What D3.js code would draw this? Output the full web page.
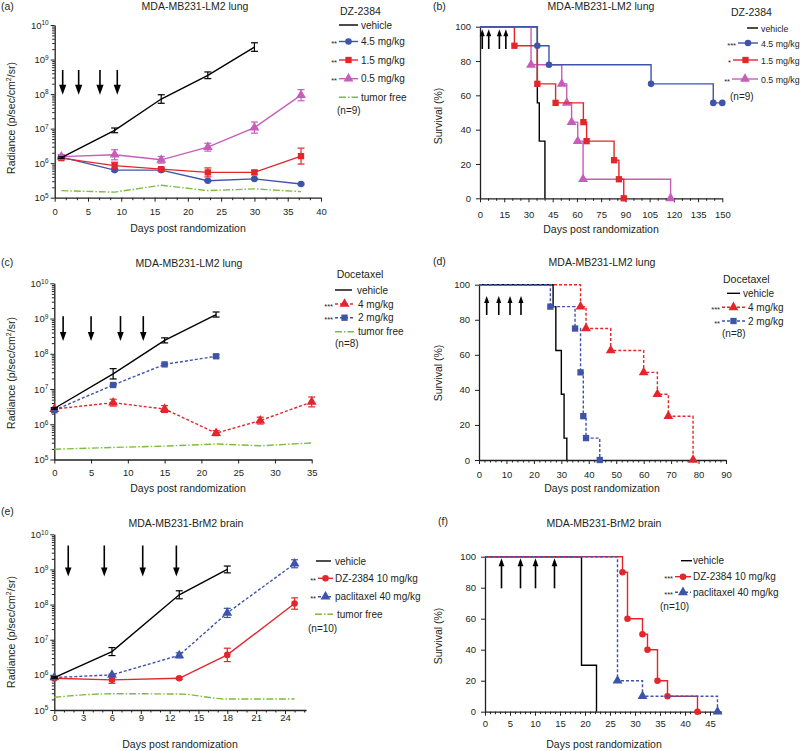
<!DOCTYPE html>
<html>
<head>
<meta charset="utf-8">
<script src="https://cdn.jsdelivr.net/npm/d3@7"></script>
<style>
body { margin: 0; background: #fff; }
</style>
</head>
<body>
<script>
// ---- data ----
// (a) DZ-2384, MDA-MB231-LM2 lung, radiance
var daysA = [1, 9, 16, 23, 30, 37];
var vehicleA = [1.45e6, 8.9e6, 7.2e7, 3.5e8, 2.3e9];
var vehicleAErr = [1.05, 1.17, 1.33, 1.25, 1.33];
var dz45A = [1.5e6, 6.3e5, 6.3e5, 3.1e5, 3.5e5, 2.5e5];
var dz45AErr = [1.08, 1.08, 1.08, 1.05, 1.05, 1.05];
var dz15A = [1.4e6, 8.5e5, 6.7e5, 5.4e5, 5.4e5, 1.6e6];
var dz15AErr = [1.1, 1.25, 1.1, 1.35, 1.15, 1.7];
var dz05A = [1.55e6, 1.75e6, 1.25e6, 2.9e6, 1.07e7, 9.3e7];
var dz05AErr = [1.15, 1.4, 1.25, 1.3, 1.45, 1.45];
var freeA = [1.6e5, 1.45e5, 2.3e5, 1.6e5, 1.8e5, 1.5e5];
var arrowsA = [1.2, 3.6, 6.8, 9.4];
var xTicksA = [0, 5, 10, 15, 20, 25, 30, 35, 40];

// (b) DZ-2384 survival: event days and survival (%)
var vehicleBDays = [35.5, 36.7, 40.2];
var vehicleBSurv = [55.6, 33.3, 0];
var dz45BDays = [35.5, 42.7, 105.9, 144.4, 150];
var dz45BSurv = [88.9, 77.8, 66.7, 55.6, 55.6];
var dz15BDays = [21.3, 35.5, 46.8, 64, 66, 83, 86, 89];
var dz15BSurv = [88.9, 66.7, 55.6, 44.4, 33.3, 22.2, 11.1, 0];
var dz05BDays = [31.6, 50.6, 53.7, 56.7, 60.5, 63.8, 118];
var dz05BSurv = [77.8, 66.7, 55.6, 44.4, 33.3, 11.1, 0];
var arrowsB = [1.4, 5.4, 12, 16];
var xTicksB = [0, 15, 30, 45, 60, 75, 90, 105, 120, 135, 150];

// (c) docetaxel, LM2 lung, radiance
var daysC = [0, 8, 15, 22, 28, 35];
var vehicleC = [2.8e6, 2.7e7, 2.4e8, 1.3e9];
var vehicleCErr = [1.05, 1.4, 1.18, 1.18];
var doc4C = [2.7e6, 4.1e6, 2.7e6, 5.6e5, 1.27e6, 4.3e6];
var doc4CErr = [1.1, 1.25, 1.25, 1.18, 1.25, 1.38];
var doc2C = [2.5e6, 1.3e7, 5.0e7, 8.5e7];
var doc2CErr = [1.1, 1.05, 1.05, 1.1];
var freeC = [1.95e5, 2.2e5, 2.4e5, 2.75e5, 2.45e5, 2.95e5];
var arrowsC = [1.2, 5.0, 9.0, 12.1];
var xTicksC = [0, 5, 10, 15, 20, 25, 30, 35];

// (d) docetaxel survival
var vehicleDDays = [27, 28, 30, 31, 32];
var vehicleDSurv = [87.5, 62.5, 37.5, 12.5, 0];
var doc4DDays = [37, 39, 48, 60, 65, 69, 78];
var doc4DSurv = [87.5, 75, 62.5, 50, 37.5, 25, 0];
var doc2DDays = [26, 35, 37, 38, 39, 44];
var doc2DSurv = [87.5, 75, 50, 25, 12.5, 0];
var arrowsD = [2.8, 7.2, 11.3, 15.3];
var xTicksD = [0, 10, 20, 30, 40, 50, 60, 70, 80, 90];

// (e) BrM2 brain, radiance
var daysE = [0, 6, 13, 18, 25];
var vehicleE = [8.4e5, 4.6e6, 1.9e8, 1.0e9];
var vehicleEErr = [1.05, 1.3, 1.3, 1.25];
var dzE = [8.0e5, 7.2e5, 8.0e5, 3.7e6, 1.07e8];
var dzEErr = [1.05, 1.25, 1.08, 1.55, 1.45];
var pacE = [8.4e5, 1.0e6, 3.6e6, 5.8e7, 1.45e9];
var pacEErr = [1.05, 1.05, 1.18, 1.35, 1.3];
var freeE = [2.3e5, 2.9e5, 2.85e5, 2.05e5, 2.05e5];
var arrowsE = [1.45, 5.2, 9.2, 12.7];
var xTicksE = [0, 3, 6, 9, 12, 15, 18, 21, 24];

// (f) BrM2 brain survival
var vehicleFDays = [19.3, 22.3];
var vehicleFSurv = [30, 0];
var dzFDays = [27.5, 28.5, 31.5, 32.5, 34.5, 36.5, 42.5];
var dzFSurv = [90, 60, 50, 40, 20, 10, 0];
var pacFDays = [26.5, 31.5, 46.5];
var pacFSurv = [20, 10, 0];
var arrowsF = [3.3, 7.1, 10.1, 13.9];
var xTicksF = [0, 5, 10, 15, 20, 25, 30, 35, 40, 45];

var decades = [1e5, 1e6, 1e7, 1e8, 1e9, 1e10];
var survTicks = [0, 20, 40, 60, 80, 100];

// ---- style ----
var FONT = "'Liberation Sans', Arial, Helvetica, sans-serif";
var INK = "#231f20";
var blue = "#3e54a8", red = "#e2262b", pink = "#c75dbb", green = "#7dbc3c";
var dashed = "3,2", dashDot = "7,2,1.5,2";

var svg = d3.select("body").append("svg")
  .attr("width", 800).attr("height", 751)
  .style("font-family", FONT);

function text(x, y, txt, size, anchor) {
  return svg.append("text").attr("x", x).attr("y", y)
    .attr("font-size", size).attr("text-anchor", anchor || "start")
    .attr("fill", INK).text(txt);
}

function yTitle(x, y, log) {
  var t = svg.append("text")
    .attr("transform", "translate(" + x + "," + y + ") rotate(-90)")
    .attr("text-anchor", "middle").attr("font-size", 10.5).attr("fill", INK);
  if (log) {
    t.append("tspan").text("Radiance (p/sec/cm");
    t.append("tspan").attr("dy", -4).attr("font-size", 7).text("2");
    t.append("tspan").attr("dy", 4).text("/sr)");
  } else {
    t.text("Survival (%)");
  }
}

function styleAxis(a) {
  a.attr("font-family", FONT).attr("font-size", 9.5);
  a.select(".domain").attr("stroke", INK).attr("stroke-width", 1.3);
  a.selectAll(".tick line").attr("stroke", INK).attr("stroke-width", 1);
  a.selectAll(".tick text").attr("fill", INK);
}

function logLabels(a) {
  a.selectAll(".tick text").each(function(d) {
    var t = d3.select(this);
    t.text(null);
    t.append("tspan").text("10");
    t.append("tspan").attr("dy", "-0.5em").attr("font-size", "6.5px").text(Math.round(Math.log10(d)));
  });
}

function minorAxis(g, axis, transform) {
  g.append("g").attr("transform", transform)
    .call(axis.tickSize(2.5).tickSizeOuter(0).tickFormat(""))
    .call(function(a) { a.select(".domain").remove(); a.selectAll("line").attr("stroke", INK); });
}

function frame(p) {
  var g = svg.append("g");
  var x = d3.scaleLinear().domain(p.xDomain).range([p.left, p.right]);
  var y = p.log
    ? d3.scaleLog().domain([1e5, 1e10]).range([p.bottom, p.top])
    : d3.scaleLinear().domain([0, 100]).range([p.bottom, p.top]);

  if (p.log) {
    var minor = [];
    decades.slice(0, 5).forEach(function(d) {
      for (var k = 2; k < 10; k++) minor.push(k * d);
    });
    minorAxis(g, d3.axisLeft(y).tickValues(minor), "translate(" + p.left + ",0)");
  }
  var ya = g.append("g").attr("transform", "translate(" + p.left + ",0)")
    .call(d3.axisLeft(y).tickValues(p.log ? decades : survTicks)
      .tickSize(4).tickSizeOuter(0).tickPadding(p.log ? 2 : 5));
  styleAxis(ya);
  if (p.log) logLabels(ya);

  if (p.xMinor) minorAxis(g, d3.axisBottom(x).tickValues(p.xMinor), "translate(0," + p.bottom + ")");
  var xa = g.append("g").attr("transform", "translate(0," + p.bottom + ")")
    .call(d3.axisBottom(x).tickValues(p.xTicks).tickSize(4).tickSizeOuter(0).tickPadding(p.xPad));
  styleAxis(xa);

  text(p.letterX, p.letterY, p.letter, 10.5);
  text(p.titleX, p.titleY, p.title, 10.5, "middle");
  text(p.xLabelX, p.xLabelY, "Days post randomization", 10.5, "middle");
  yTitle(p.yLabelX, p.yLabelY, p.log);
  return { g: g, x: x, y: y };
}

function marker(sel, symbol, color) {
  var size = symbol === d3.symbolCircle ? 34 : symbol === d3.symbolSquare ? 40 : 42;
  sel.attr("d", d3.symbol(symbol, size)()).attr("fill", color);
}

function growth(f, days, vals, errs, s) {
  var pts = vals.map(function(v, i) { return { d: days[i], v: v, e: errs ? errs[i] : 1 }; });
  var line = d3.line().x(function(d) { return f.x(d.d); }).y(function(d) { return f.y(d.v); });
  if (s.smooth) line.curve(d3.curveMonotoneX);
  f.g.append("path").datum(pts).attr("d", line)
    .attr("fill", "none").attr("stroke", s.color).attr("stroke-width", 1.4)
    .attr("stroke-dasharray", s.dash || null);

  var eb = f.g.selectAll(null).data(pts.filter(function(d) { return d.e > 1; }))
    .enter().append("g").attr("stroke", s.color).attr("stroke-width", 1.2);
  eb.append("line")
    .attr("x1", function(d) { return f.x(d.d); }).attr("x2", function(d) { return f.x(d.d); })
    .attr("y1", function(d) { return f.y(d.v * d.e); }).attr("y2", function(d) { return f.y(d.v / d.e); });
  [1, -1].forEach(function(sg) {
    eb.append("line")
      .attr("x1", function(d) { return f.x(d.d) - 3.5; }).attr("x2", function(d) { return f.x(d.d) + 3.5; })
      .attr("y1", function(d) { return f.y(sg > 0 ? d.v * d.e : d.v / d.e); })
      .attr("y2", function(d) { return f.y(sg > 0 ? d.v * d.e : d.v / d.e); });
  });

  if (s.symbol) {
    f.g.selectAll(null).data(pts).enter().append("path")
      .attr("transform", function(d) { return "translate(" + f.x(d.d) + "," + f.y(d.v) + ")"; })
      .call(marker, s.symbol, s.color);
  }
}

function km(f, days, surv, s) {
  var pts = [[0, 100]].concat(days.map(function(t, i) { return [t, surv[i]]; }));
  f.g.append("path").datum(pts)
    .attr("d", d3.line().curve(d3.curveStepAfter)
      .x(function(d) { return f.x(d[0]); }).y(function(d) { return f.y(d[1]); }))
    .attr("fill", "none").attr("stroke", s.color).attr("stroke-width", 1.4)
    .attr("stroke-dasharray", s.dash || null);
  if (s.symbol) {
    f.g.selectAll(null).data(pts.slice(1)).enter().append("path")
      .attr("transform", function(d) { return "translate(" + f.x(d[0]) + "," + f.y(d[1]) + ")"; })
      .call(marker, s.symbol, s.color);
  }
}

function arrows(f, days, from, to, head) {
  days.forEach(function(d) {
    var x = f.x(d), y0 = f.y(from), y1 = f.y(to), dir = y1 > y0 ? 1 : -1;
    f.g.append("line").attr("x1", x).attr("x2", x).attr("y1", y0).attr("y2", y1 - dir * (head - 1))
      .attr("stroke", "#000").attr("stroke-width", 1.6);
    f.g.append("path")
      .attr("d", "M" + (x - head * 0.36) + "," + (y1 - dir * head) + "L" + (x + head * 0.36) + "," + (y1 - dir * head) + "L" + x + "," + y1 + "Z")
      .attr("fill", "#000");
  });
}

function legend(items, size) {
  items.forEach(function(it) {
    if (it.line) {
      svg.append("line").attr("x1", it.x0).attr("x2", it.x1).attr("y1", it.y).attr("y2", it.y)
        .attr("stroke", it.color).attr("stroke-width", 1.4).attr("stroke-dasharray", it.dash || null);
    }
    if (it.symbol) {
      svg.append("path").attr("transform", "translate(" + (it.x0 + it.x1) / 2 + "," + it.y + ")")
        .call(marker, it.symbol, it.color);
    }
    if (it.stars) text(it.x0 - 2, it.y + 4.5, it.stars, 7.5, "end");
    text(it.tx, it.y + (it.line ? 3.5 : 0), it.label, it.size || size || 10);
  });
}

// ---- (a) ----
var fa = frame({ log: true, left: 54.7, right: 321, top: 25, bottom: 197.7, xDomain: [0, 40],
  xTicks: xTicksA, xMinor: d3.range(0, 40, 5 / 3).filter(function(v, i) { return i % 3; }), xPad: 7,
  letter: "(a)", letterX: 1, letterY: 10, title: "MDA-MB231-LM2 lung", titleX: 195, titleY: 10,
  xLabelX: 188, xLabelY: 232, yLabelX: 15, yLabelY: 118 });
growth(fa, daysA, freeA, null, { color: green, dash: dashDot });
growth(fa, daysA, dz45A, dz45AErr, { color: blue, symbol: d3.symbolCircle });
growth(fa, daysA, dz15A, dz15AErr, { color: red, symbol: d3.symbolSquare });
growth(fa, daysA, dz05A, dz05AErr, { color: pink, symbol: d3.symbolTriangle });
growth(fa, daysA, vehicleA, vehicleAErr, { color: "#000" });
arrows(fa, arrowsA, 5e8, 9.5e7, 10);
legend([
  { label: "DZ-2384", tx: 340, y: 15, size: 10.5 },
  { label: "vehicle", line: true, color: "#000", x0: 339, x1: 358, tx: 361, y: 25 },
  { label: "4.5 mg/kg", line: true, color: blue, symbol: d3.symbolCircle, stars: "**", x0: 339, x1: 358, tx: 361, y: 41.5 },
  { label: "1.5 mg/kg", line: true, color: red, symbol: d3.symbolSquare, stars: "**", x0: 339, x1: 358, tx: 361, y: 60 },
  { label: "0.5 mg/kg", line: true, color: pink, symbol: d3.symbolTriangle, stars: "**", x0: 339, x1: 358, tx: 361, y: 78.7 },
  { label: "tumor free", line: true, color: green, dash: dashDot, x0: 339, x1: 358, tx: 361, y: 97.3 },
  { label: "(n=9)", tx: 337, y: 114 }
]);

// ---- (b) ----
var fb = frame({ log: false, left: 480, right: 722.3, top: 26.7, bottom: 198.3, xDomain: [0, 150],
  xTicks: xTicksB, xMinor: d3.range(5, 150, 5).filter(function(v) { return v % 15; }), xPad: 9,
  letter: "(b)", letterX: 433, letterY: 10, title: "MDA-MB231-LM2 lung", titleX: 601, titleY: 10,
  xLabelX: 601, xLabelY: 233, yLabelX: 442, yLabelY: 116 });
km(fb, vehicleBDays, vehicleBSurv, { color: "#000" });
km(fb, dz05BDays, dz05BSurv, { color: pink, symbol: d3.symbolTriangle });
km(fb, dz15BDays, dz15BSurv, { color: red, symbol: d3.symbolSquare });
km(fb, dz45BDays, dz45BSurv, { color: blue, symbol: d3.symbolCircle });
arrows(fb, arrowsB, 87, 98.5, 7);
legend([
  { label: "DZ-2384", tx: 731, y: 16, size: 10.5 },
  { label: "vehicle", line: true, color: "#000", x0: 747, x1: 758, tx: 761, y: 28 },
  { label: "4.5 mg/kg", line: true, color: blue, symbol: d3.symbolCircle, stars: "***", x0: 738, x1: 758, tx: 761, y: 43 },
  { label: "1.5 mg/kg", line: true, color: red, symbol: d3.symbolSquare, stars: "*", x0: 733, x1: 758, tx: 761, y: 60 },
  { label: "0.5 mg/kg", line: true, color: pink, symbol: d3.symbolTriangle, stars: "**", x0: 732, x1: 758, tx: 761, y: 79 },
  { label: "(n=9)", tx: 730, y: 100, size: 10 }
], 8.8);

// ---- (c) ----
var fc = frame({ log: true, left: 54.3, right: 311.7, top: 283.3, bottom: 459.5, xDomain: [0, 35],
  xTicks: xTicksC, xPad: 6,
  letter: "(c)", letterX: 1, letterY: 266, title: "MDA-MB231-LM2 lung", titleX: 189, titleY: 267,
  xLabelX: 188, xLabelY: 492, yLabelX: 15, yLabelY: 373 });
growth(fc, daysC, freeC, null, { color: green, dash: dashDot });
growth(fc, daysC, doc4C, doc4CErr, { color: red, dash: dashed, symbol: d3.symbolTriangle });
growth(fc, daysC, doc2C, doc2CErr, { color: blue, dash: dashed, symbol: d3.symbolSquare });
growth(fc, daysC, vehicleC, vehicleCErr, { color: "#000" });
arrows(fc, arrowsC, 1.17e9, 2.3e8, 9);
legend([
  { label: "Docetaxel", tx: 336.7, y: 278, size: 10.5 },
  { label: "vehicle", line: true, color: "#000", x0: 335, x1: 352, tx: 357, y: 290 },
  { label: "4 mg/kg", line: true, color: red, dash: dashed, symbol: d3.symbolTriangle, stars: "***", x0: 335, x1: 354, tx: 358, y: 304 },
  { label: "2 mg/kg", line: true, color: blue, dash: dashed, symbol: d3.symbolSquare, stars: "***", x0: 335, x1: 354, tx: 358, y: 317.7 },
  { label: "tumor free", line: true, color: green, dash: dashDot, x0: 335, x1: 354, tx: 358, y: 331.7 },
  { label: "(n=8)", tx: 335, y: 347 }
]);

// ---- (d) ----
var fd = frame({ log: false, left: 479, right: 726, top: 284.7, bottom: 460, xDomain: [0, 90],
  xTicks: xTicksD, xMinor: d3.range(2, 90, 2).filter(function(v) { return v % 10; }), xPad: 7,
  letter: "(d)", letterX: 433, letterY: 265, title: "MDA-MB231-LM2 lung", titleX: 602, titleY: 266,
  xLabelX: 602, xLabelY: 492, yLabelX: 442, yLabelY: 373 });
km(fd, vehicleDDays, vehicleDSurv, { color: "#000" });
km(fd, doc4DDays, doc4DSurv, { color: red, dash: dashed, symbol: d3.symbolTriangle });
km(fd, doc2DDays, doc2DSurv, { color: blue, dash: dashed, symbol: d3.symbolSquare });
arrows(fd, arrowsD, 82.7, 93.5, 7);
legend([
  { label: "Docetaxel", tx: 723, y: 283, size: 10.5 },
  { label: "vehicle", line: true, color: "#000", x0: 727, x1: 740, tx: 743, y: 293.3 },
  { label: "4 mg/kg", line: true, color: red, dash: dashed, symbol: d3.symbolTriangle, stars: "***", x0: 722, x1: 745, tx: 748, y: 307.3 },
  { label: "2 mg/kg", line: true, color: blue, dash: dashed, symbol: d3.symbolSquare, stars: "**", x0: 722, x1: 745, tx: 748, y: 321 },
  { label: "(n=8)", tx: 722, y: 337 }
]);

// ---- (e) ----
var fe = frame({ log: true, left: 54.3, right: 306.1, top: 534.3, bottom: 710, xDomain: [0, 26.2],
  xTicks: xTicksE, xMinor: d3.range(1, 27, 1).filter(function(v) { return v % 3; }), xPad: 0,
  letter: "(e)", letterX: 1, letterY: 515, title: "MDA-MB231-BrM2 brain", titleX: 186, titleY: 527,
  xLabelX: 180, xLabelY: 748, yLabelX: 15, yLabelY: 632 });
growth(fe, daysE, freeE, null, { color: green, dash: dashDot, smooth: true });
growth(fe, daysE, dzE, dzEErr, { color: red, symbol: d3.symbolCircle });
growth(fe, daysE, pacE, pacEErr, { color: blue, dash: dashed, symbol: d3.symbolTriangle });
growth(fe, daysE, vehicleE, vehicleEErr, { color: "#000" });
arrows(fe, arrowsE, 4.8e9, 6.3e8, 9);
legend([
  { label: "vehicle", line: true, color: "#000", x0: 316, x1: 331, tx: 335, y: 561 },
  { label: "DZ-2384 10 mg/kg", line: true, color: red, symbol: d3.symbolCircle, stars: "**", x0: 318, x1: 333, tx: 335, y: 578.3 },
  { label: "paclitaxel 40 mg/kg", line: true, color: blue, dash: dashed, symbol: d3.symbolTriangle, stars: "**", x0: 318, x1: 333, tx: 335, y: 596.7 },
  { label: "tumor free", line: true, color: green, dash: dashDot, x0: 315, x1: 333, tx: 337, y: 614.3 },
  { label: "(n=10)", tx: 308, y: 632 }
]);

// ---- (f) ----
var ff = frame({ log: false, left: 485, right: 721.5, top: 556.7, bottom: 711.7, xDomain: [0, 47.3],
  xTicks: xTicksF, xMinor: d3.range(1, 48, 1).filter(function(v) { return v % 5; }), xPad: 5,
  letter: "(f)", letterX: 438, letterY: 525, title: "MDA-MB231-BrM2 brain", titleX: 604, titleY: 527,
  xLabelX: 604, xLabelY: 748, yLabelX: 442, yLabelY: 636 });
km(ff, vehicleFDays, vehicleFSurv, { color: "#000" });
km(ff, dzFDays, dzFSurv, { color: red, symbol: d3.symbolCircle });
km(ff, pacFDays, pacFSurv, { color: blue, dash: dashed, symbol: d3.symbolTriangle });
arrows(ff, arrowsF, 79.6, 99, 8);
legend([
  { label: "vehicle", line: true, color: "#000", x0: 681, x1: 692, tx: 693, y: 560.7 },
  { label: "DZ-2384 10 mg/kg", line: true, color: red, symbol: d3.symbolCircle, stars: "***", x0: 675, x1: 691, tx: 693, y: 576.7 },
  { label: "paclitaxel 40 mg/kg", line: true, color: blue, dash: dashed, symbol: d3.symbolTriangle, stars: "***", x0: 675, x1: 691, tx: 693, y: 592.3 },
  { label: "(n=10)", tx: 660, y: 610 }
]);
</script>
</body>
</html>
